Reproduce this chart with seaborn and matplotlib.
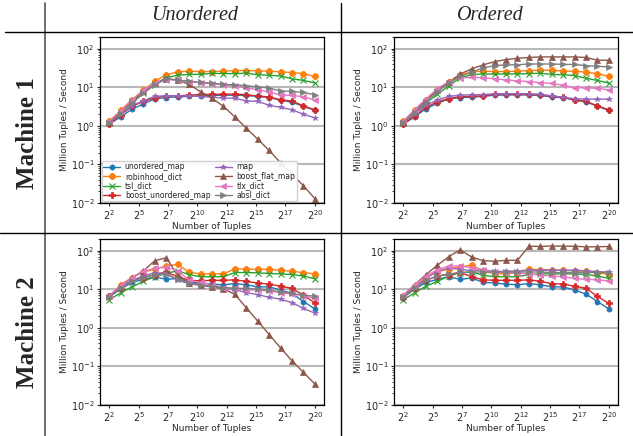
import numpy as np
import pandas as pd
import matplotlib
matplotlib.use("Agg")
import matplotlib.pyplot as plt
from matplotlib.lines import Line2D
import seaborn as sns

# --- data: throughput (million tuples / second) for 2^2 .. 2^20 tuples ---
EXPONENTS = list(range(2, 21))
STRUCTURES = ['unordered_map', 'robinhood_dict', 'tsl_dict', 'boost_unordered_map',
              'map', 'boost_flat_map', 'tlx_dict', 'absl_dict']
MARKERS = ['h', '8', 'x', 'P', '*', '^', '<', '>']
COL_TITLES = ['Unordered', 'Ordered']
ROW_TITLES = ['Machine 1', 'Machine 2']

M1_UNORDERED = {
    'unordered_map': [1.1, 1.7, 2.7, 3.7, 5.0, 5.4, 5.6, 5.8, 6.0, 6.1, 6.2, 6.2, 6.1, 5.8, 5.4, 4.6, 4.1, 3.2, 2.5],
    'robinhood_dict': [1.3, 2.5, 4.8, 8.3, 14.4, 21, 25, 26, 25.5, 25.5, 26, 27, 27, 26.5, 26, 25, 24, 22.5, 19],
    'tsl_dict': [1.2, 2.2, 4.3, 7.0, 12, 17.5, 20.5, 21.5, 21.5, 23, 22.5, 22.5, 23, 21, 20.5, 19.5, 16.5, 15, 12.8],
    'boost_unordered_map': [1.1, 1.9, 3.2, 4.3, 5.3, 6.0, 6.0, 6.2, 6.5, 6.5, 6.6, 6.6, 6.4, 5.9, 5.6, 4.7, 4.4, 3.3, 2.6],
    'map': [1.2, 2.0, 3.3, 4.5, 5.8, 6.0, 6.0, 5.9, 5.8, 5.5, 5.2, 5.2, 4.4, 4.3, 3.4, 3.0, 2.6, 2.0, 1.6],
    'boost_flat_map': [1.25, 2.3, 4.4, 8.0, 12.5, 16.8, 15.3, 11.8, 7.6, 5.2, 3.2, 1.7, 0.87, 0.45, 0.23, 0.11, 0.056, 0.028, 0.013],
    'tlx_dict': [1.3, 2.4, 4.6, 8.5, 12.5, 15.8, 15.3, 14, 13, 12.3, 11.5, 10.7, 9.7, 8.6, 7.5, 6.3, 6.1, 5.7, 4.6],
    'absl_dict': [1.2, 2.0, 3.8, 7.0, 11.5, 16.5, 15.3, 14.4, 13.3, 12.8, 11.8, 11.5, 10.9, 10.2, 9.5, 8.0, 7.8, 7.3, 6.4],
}
M1_ORDERED = {
    'unordered_map': [1.1, 1.7, 2.8, 3.8, 5.0, 5.4, 5.5, 5.8, 6.2, 6.3, 6.3, 6.3, 6.1, 5.6, 5.3, 4.8, 4.2, 3.2, 2.5],
    'robinhood_dict': [1.3, 2.5, 4.8, 8.5, 14, 21, 25, 26, 25.5, 25.5, 26, 27, 27.5, 27.5, 26, 26, 24.5, 22.5, 19],
    'tsl_dict': [1.2, 2.1, 3.9, 6.5, 11, 17.5, 21, 22, 22, 22, 22, 22.5, 23, 21.5, 21, 20, 17, 15, 12.8],
    'boost_unordered_map': [1.1, 1.8, 3.0, 4.2, 5.1, 5.7, 5.8, 6.0, 6.6, 6.6, 6.6, 6.6, 6.3, 5.8, 5.5, 4.6, 4.3, 3.3, 2.6],
    'map': [1.2, 2.0, 3.4, 4.7, 5.8, 6.2, 6.4, 6.4, 6.8, 6.8, 6.8, 6.8, 6.5, 6.0, 5.5, 5.0, 4.9, 4.9, 4.9],
    'boost_flat_map': [1.25, 2.4, 4.6, 8.5, 13.5, 22, 30, 38, 46, 52, 56, 59, 61, 61, 61, 61, 59, 50, 50],
    'tlx_dict': [1.3, 2.6, 5.0, 9.2, 14, 17.5, 18, 17.6, 16.5, 15.5, 14.6, 14, 13.2, 12.5, 11.3, 9.7, 9.6, 9.4, 8.5],
    'absl_dict': [1.2, 2.2, 4.2, 7.5, 13, 19, 24.5, 32, 36, 38, 38, 40, 40, 40, 39, 39, 36, 35, 33.5],
}
M2_UNORDERED = {
    'unordered_map': [6.3, 10, 15, 18, 21, 18, 19, 15, 14.5, 13.5, 13, 14, 13, 11.5, 11.5, 9.5, 7.8, 4.8, 3.1],
    'robinhood_dict': [6.5, 13, 20, 28, 33, 40, 44, 27.5, 25, 25, 25, 34, 33, 33, 32.5, 31, 29, 27, 25],
    'tsl_dict': [5.3, 8, 11.5, 16, 21, 26, 30, 24, 21, 21, 21, 27, 27, 26.5, 25.5, 25, 24, 22, 18.5],
    'boost_unordered_map': [6.5, 11, 17, 20, 24, 28, 21, 17, 16.5, 17, 17, 17.5, 16, 14.5, 13.5, 12, 10.5, 7, 4.4],
    'map': [6.5, 11, 17, 22, 27, 25, 17, 14, 12.5, 11.5, 10.5, 9.8, 8.2, 7.2, 6.2, 5.5, 4.5, 3.2, 2.4],
    'boost_flat_map': [6.5, 12, 20, 30, 55, 65, 23, 14.5, 13, 11.7, 10.2, 7.4, 3.3, 1.5, 0.67, 0.30, 0.14, 0.07, 0.035],
    'tlx_dict': [6.8, 12.5, 20, 29, 35, 37, 30, 17, 15, 13, 11, 10.5, 9.8, 9.5, 9, 8.2, 7.5, 6.8, 5.8],
    'absl_dict': [6.3, 10.5, 16, 20, 24, 25, 18, 14.5, 13, 12, 11, 10.5, 10.5, 10, 9.5, 8.5, 7.8, 7, 6.6],
}
M2_ORDERED = {
    'unordered_map': [6.0, 10, 15, 18, 21, 18, 19.5, 15, 14.5, 13.5, 13, 14, 13, 11.5, 11.5, 9.5, 7.5, 4.8, 3.1],
    'robinhood_dict': [6.5, 12, 20, 28, 34, 38, 42, 30, 25, 25, 27, 33, 32, 32, 31, 30, 29, 27, 24],
    'tsl_dict': [5.3, 8, 12, 16, 22, 27, 28, 23, 21, 21, 21, 24, 25, 25, 25, 25, 24, 22, 19],
    'boost_unordered_map': [6.3, 11, 17, 22, 24, 27, 21, 17.5, 17, 17, 17, 17.5, 16, 14, 13.5, 12, 10.5, 6.5, 4.3],
    'map': [6.5, 11, 19, 30, 35, 33, 30, 32, 29, 29, 30, 31, 31, 31, 31, 31, 30, 28.5, 28],
    'boost_flat_map': [6.8, 13, 24, 42, 70, 105, 68, 55, 53, 56, 56, 130, 128, 132, 130, 130, 125, 126, 128],
    'tlx_dict': [7.0, 13, 22, 32, 40, 40, 36, 32, 28, 27, 26, 25, 23, 22, 21, 19, 18, 17.5, 16.5],
    'absl_dict': [6.3, 10.5, 17, 22, 25, 27, 28, 28, 28, 28, 28, 28, 28, 27, 27, 27, 27, 27, 27],
}
PANELS = [[M1_UNORDERED, M1_ORDERED], [M2_UNORDERED, M2_ORDERED]]

sns.set_style("ticks")
plt.rcParams['font.family'] = ['DejaVu Sans']

colors = sns.color_palette('tab10', 8)

fig = plt.figure(figsize=(6.33, 4.36), dpi=100)

col_left = [100 / 633, 394 / 633]
row_bottom = [1 - 203 / 436, 1 - 405 / 436]
ax_w = 224 / 633
ax_h = 166 / 436

tick_pos = 2 ** np.linspace(2, 20, 8)
tick_lab = [f"$2^{{{int(round(e))}}}$" for e in np.linspace(2, 20, 8)]
xs = [2 ** e for e in EXPONENTS]

for r in range(2):
    for c in range(2):
        ax = fig.add_axes([col_left[c], row_bottom[r], ax_w, ax_h])
        panel = PANELS[r][c]
        for name, col, mk in zip(STRUCTURES, colors, MARKERS):
            sns.lineplot(x=xs, y=panel[name], color=col, marker=mk, markersize=4,
                         linewidth=1, markeredgewidth=0.8 if mk == 'x' else 0.5,
                         markeredgecolor=col, label=name, ax=ax)
        ax.set_xscale('log', base=2)
        ax.set_yscale('log')
        ax.set_ylim(0.01, 200)
        ax.set_xlim(2 ** 1.2, 2 ** 20.8)
        ax.set_xticks(tick_pos)
        ax.set_xticklabels(tick_lab)
        ax.xaxis.set_minor_locator(matplotlib.ticker.NullLocator())
        ax.yaxis.grid(True, which='major', color='#b8b8b8', linewidth=1.5)
        ax.set_axisbelow(True)
        ax.tick_params(labelsize=7, length=2.5, width=0.8, pad=1.5)
        ax.tick_params(which='minor', length=1.5, width=0.6)
        ax.set_xlabel('Number of Tuples', fontsize=6.5, labelpad=0)
        ax.set_ylabel('Million Tuples / Second', fontsize=6.5, labelpad=1)
        for s in ax.spines.values():
            s.set_color('black')
            s.set_linewidth(0.9)
        if r == 0 and c == 0:
            ax.legend(loc='lower left', ncol=2, fontsize=5.5, frameon=True, framealpha=0.9,
                      borderaxespad=0.2, handlelength=2.2, columnspacing=0.6,
                      labelspacing=0.05, borderpad=0.25, handletextpad=0.6,
                      edgecolor='#cccccc')
        else:
            ax.get_legend().remove()

# table-like frame lines and headers
fig.add_artist(Line2D([45 / 633, 45 / 633], [1 - 3 / 436, 0], color='#555555', lw=1.2))
fig.add_artist(Line2D([341 / 633, 341 / 633], [1 - 3 / 436, 0], color='black', lw=1.0))
fig.add_artist(Line2D([5 / 633, 1], [1 - 32 / 436, 1 - 32 / 436], color='black', lw=1.0))
fig.add_artist(Line2D([0, 1], [1 - 233 / 436, 1 - 233 / 436], color='black', lw=1.0))

for x, t in zip([195 / 633, 490 / 633], COL_TITLES):
    fig.text(x, 1 - 16 / 436, t, ha='center', va='center', fontsize=14.5,
             style='italic', family='Liberation Serif')
for y, t in zip([1 - 133 / 436, 1 - 332 / 436], ROW_TITLES):
    fig.text(27 / 633, y, t, ha='center', va='center', rotation=90, fontsize=18,
             fontweight='bold', family='Liberation Serif')

fig.savefig('out.png', dpi=100)
